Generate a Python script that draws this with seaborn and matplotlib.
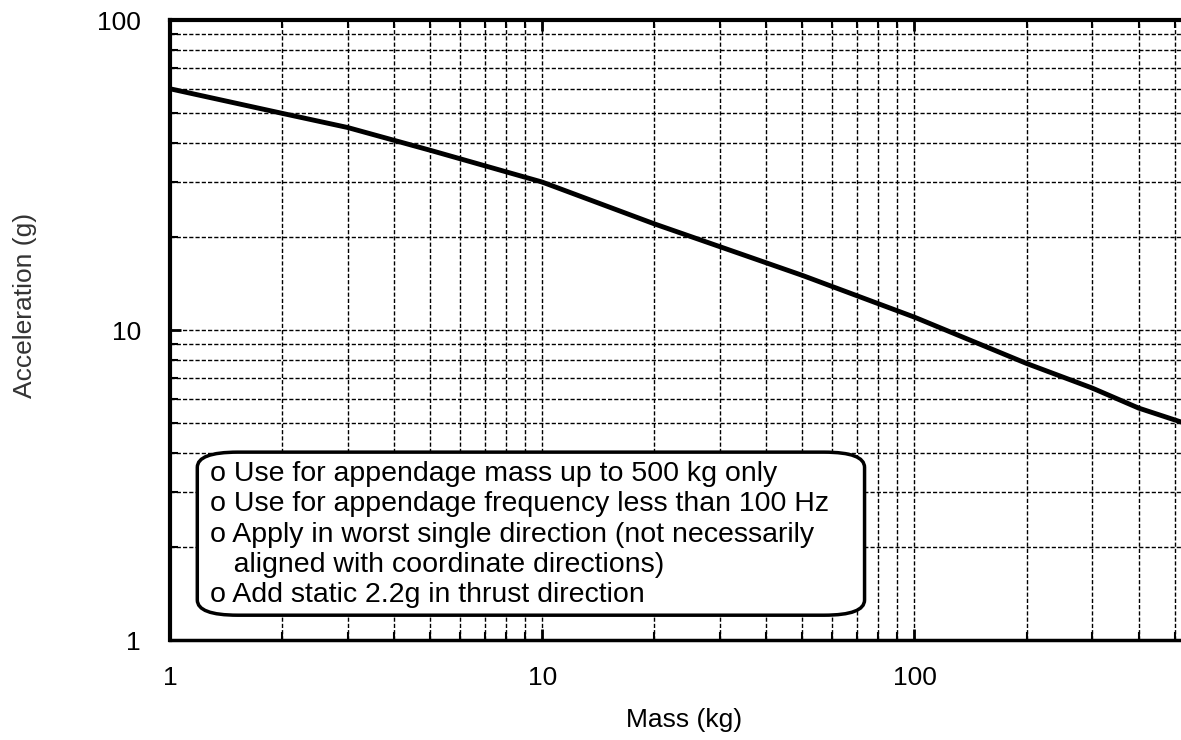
import matplotlib
matplotlib.use("Agg")
import matplotlib.pyplot as plt
import seaborn as sns
import pandas as pd
import numpy as np
from matplotlib.patches import FancyBboxPatch
from matplotlib.ticker import LogLocator, NullFormatter, FixedLocator

sns.set_style("white")
plt.rcParams['font.family'] = ['Liberation Sans', 'DejaVu Sans']
plt.rcParams['text.color'] = 'black'
plt.rcParams['axes.labelcolor'] = 'black'
plt.rcParams['xtick.color'] = 'black'
plt.rcParams['ytick.color'] = 'black'

# Data
mass_kg = [1, 2, 3, 5, 10, 20, 50, 100, 200, 300, 400, 520]
accel_g = [60, 50, 45, 38, 30, 22, 15, 11, 7.8, 6.5, 5.6, 5.05]

x_ticks = [1, 10, 100]
x_tick_labels = ["1", "10", "100"]
y_ticks = [1, 10, 100]
y_tick_labels = ["1", "10", "100"]

notes = [
    "o Use for appendage mass up to 500 kg only",
    "o Use for appendage frequency less than 100 Hz",
    "o Apply in worst single direction (not necessarily",
    "   aligned with coordinate directions)",
    "o Add static 2.2g in thrust direction",
]

df = pd.DataFrame({"Mass (kg)": mass_kg, "Acceleration (g)": accel_g})

fig = plt.figure(figsize=(11.81, 7.40), dpi=100)
ax = fig.add_axes([170 / 1181, 1 - 640 / 740, 1011 / 1181, 620 / 740])

sns.lineplot(data=df, x="Mass (kg)", y="Acceleration (g)", ax=ax,
             color="black", linewidth=3.5, zorder=5)

ax.set_xscale("log")
ax.set_yscale("log")
ax.set_xlim(1, 520)
ax.set_ylim(1, 100)

ax.xaxis.set_major_locator(FixedLocator(x_ticks))
ax.yaxis.set_major_locator(FixedLocator(y_ticks))
ax.xaxis.set_minor_locator(LogLocator(base=10, subs=np.arange(2, 10)))
ax.yaxis.set_minor_locator(LogLocator(base=10, subs=np.arange(2, 10)))
ax.xaxis.set_minor_formatter(NullFormatter())
ax.yaxis.set_minor_formatter(NullFormatter())
ax.set_xticklabels(x_tick_labels, fontsize=19, color="black")
ax.set_yticklabels(y_tick_labels, fontsize=19, color="black")

ax.grid(which="both", color="black", linestyle=(0, (3, 1.5)), linewidth=1.0)

ax.tick_params(which="both", direction="in", top=True, bottom=True,
               left=True, right=False, color="black")
ax.tick_params(which="major", length=8, width=2)
ax.tick_params(which="minor", length=6, width=1.5)
ax.tick_params(axis="x", which="major", pad=19)
ax.tick_params(axis="y", which="major", pad=21)

for side in ["left", "top", "bottom"]:
    ax.spines[side].set_visible(True)
    ax.spines[side].set_color("black")
ax.spines["left"].set_linewidth(3)
ax.spines["top"].set_linewidth(3)
ax.spines["bottom"].set_linewidth(2.5)
ax.spines["right"].set_visible(False)

ax.set_xlabel("Mass (kg)", fontsize=19, color="black")
ax.xaxis.set_label_coords(0.508, -0.1097)
ax.set_ylabel("Acceleration (g)", fontsize=19, color="#333333")
ax.yaxis.set_label_coords(-0.1316, 0.539)

box = FancyBboxPatch((0.027, 0.040), 0.66, 0.263,
                     boxstyle="round,pad=0,rounding_size=0.04",
                     transform=ax.transAxes, facecolor="white",
                     edgecolor="black", linewidth=2.5, zorder=6,
                     mutation_aspect=620 / 1011)
ax.add_patch(box)

for i, line in enumerate(notes):
    ax.text(0.04, 0.268 - i * 0.049, line, transform=ax.transAxes,
            fontsize=20.5, va="center", ha="left", zorder=7, color="black")

fig.savefig("out.png", dpi=100)
